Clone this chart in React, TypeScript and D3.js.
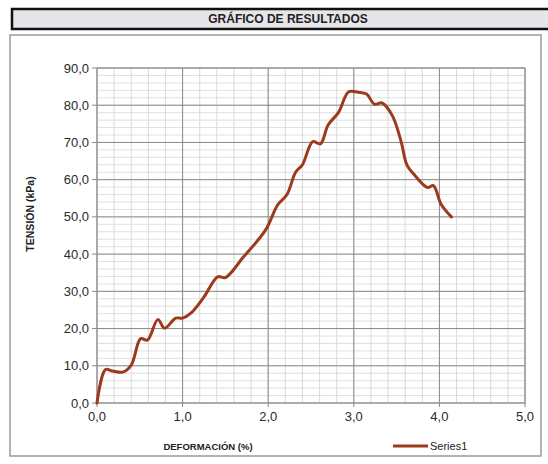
import React from "react";
import * as d3 from "d3";

const deformacion = [0, 0.1, 0.18, 0.3, 0.4, 0.51, 0.59, 0.71, 0.79, 0.92, 1.0, 1.1, 1.25, 1.41, 1.5, 1.71, 1.97, 2.11, 2.22, 2.32, 2.4, 2.52, 2.61, 2.7, 2.82, 2.94, 3.05, 3.15, 3.24, 3.33, 3.45, 3.55, 3.62, 3.7, 3.86, 3.93, 4.02, 4.14];
const tension = [0, 9.0, 8.6, 8.3, 10.2, 17.3, 16.9, 22.4, 20.1, 22.8, 22.8, 24.2, 28.5, 33.9, 33.7, 39.2, 46.5, 53.2, 56.0, 62.0, 64.0, 70.2, 69.6, 74.7, 78.0, 83.6, 83.5, 83.0, 80.3, 80.6, 77.2, 70.5, 64.0, 61.5, 57.9, 58.4, 53.4, 50.0];
const xTicks = [0, 1, 2, 3, 4, 5];
const yTicks = [0, 10, 20, 30, 40, 50, 60, 70, 80, 90];
const xMinor = d3.range(0, 5.0001, 0.2);
const yMinor = d3.range(0, 90.0001, 2);

const fmt = (v: number) => v.toFixed(1).replace(".", ",");

export default function App() {
  const W = 548, H = 464;
  const left = 97, right = 525, top = 68, bottom = 403;
  const x = d3.scaleLinear().domain([0, 5]).range([left, right]);
  const y = d3.scaleLinear().domain([0, 90]).range([bottom, top]);
  const pts: [number, number][] = deformacion.map((d, i) => [d, tension[i]]);
  const line = d3.line<[number, number]>().x(d => x(d[0])).y(d => y(d[1])).curve(d3.curveCatmullRom.alpha(0.5));
  const font = "Liberation Sans, Arial, sans-serif";
  return (
    <svg width={W} height={H} style={{ position: "absolute", left: 0, top: 0, background: "#fff" }}>
      <rect x={0} y={0} width={W} height={H} fill="#fff" />
      {/* title bar */}
      <rect x={12} y={9} width={545} height={20} fill="#e6e6ea" stroke="#111" strokeWidth={2.5} />
      <text x={288} y={23} textAnchor="middle" fontFamily={font} fontSize={12} fontWeight="bold" fill="#222">GRÁFICO DE RESULTADOS</text>
      {/* chart frame */}
      <rect x={10} y={35} width={531} height={421} fill="#fff" stroke="#9a9a9a" strokeWidth={1.5} />
      {/* minor grid */}
      {xMinor.map((v, i) => (
        <line key={"xm" + i} x1={x(v)} x2={x(v)} y1={top} y2={bottom} stroke="#d0d0d0" strokeWidth={0.8} />
      ))}
      {yMinor.map((v, i) => (
        <line key={"ym" + i} x1={left} x2={right} y1={y(v)} y2={y(v)} stroke="#d8d8d8" strokeWidth={0.8} />
      ))}
      {/* major grid */}
      {xTicks.map((v, i) => (
        <line key={"xg" + i} x1={x(v)} x2={x(v)} y1={top} y2={bottom} stroke="#8a8a8a" strokeWidth={1} />
      ))}
      {yTicks.map((v, i) => (
        <line key={"yg" + i} x1={left} x2={right} y1={y(v)} y2={y(v)} stroke="#8a8a8a" strokeWidth={1} />
      ))}
      <rect x={left} y={top} width={right - left} height={bottom - top} fill="none" stroke="#9a9a9a" strokeWidth={1} />
      {/* ticks */}
      {yTicks.map((v, i) => (
        <g key={"yt" + i}>
          <line x1={left - 5} x2={left} y1={y(v)} y2={y(v)} stroke="#888" />
          <text x={left - 8} y={y(v) + 4.5} textAnchor="end" fontFamily={font} fontSize={13} fill="#2a2a2a">{fmt(v)}</text>
        </g>
      ))}
      {xTicks.map((v, i) => (
        <g key={"xt" + i}>
          <line x1={x(v)} x2={x(v)} y1={bottom} y2={bottom + 4} stroke="#888" />
          <text x={x(v)} y={bottom + 18} textAnchor="middle" fontFamily={font} fontSize={13} fill="#2a2a2a">{fmt(v)}</text>
        </g>
      ))}
      {/* data */}
      <path d={line(pts) || ""} fill="none" stroke="#9c3a1c" strokeWidth={3} strokeLinejoin="round" strokeLinecap="round" />
      {/* axis titles */}
      <text transform={`translate(34,214) rotate(-90)`} textAnchor="middle" fontFamily={font} fontSize={10.5} fontWeight="bold" fill="#222">TENSIÓN (kPa)</text>
      <text x={208} y={450} textAnchor="middle" fontFamily={font} fontSize={9.5} fontWeight="bold" fill="#222">DEFORMACIÓN (%)</text>
      {/* legend */}
      <line x1={393} x2={428} y1={446} y2={446} stroke="#9c3a1c" strokeWidth={3} />
      <text x={430} y={450} fontFamily={font} fontSize={11} fill="#222">Series1</text>
    </svg>
  );
}
